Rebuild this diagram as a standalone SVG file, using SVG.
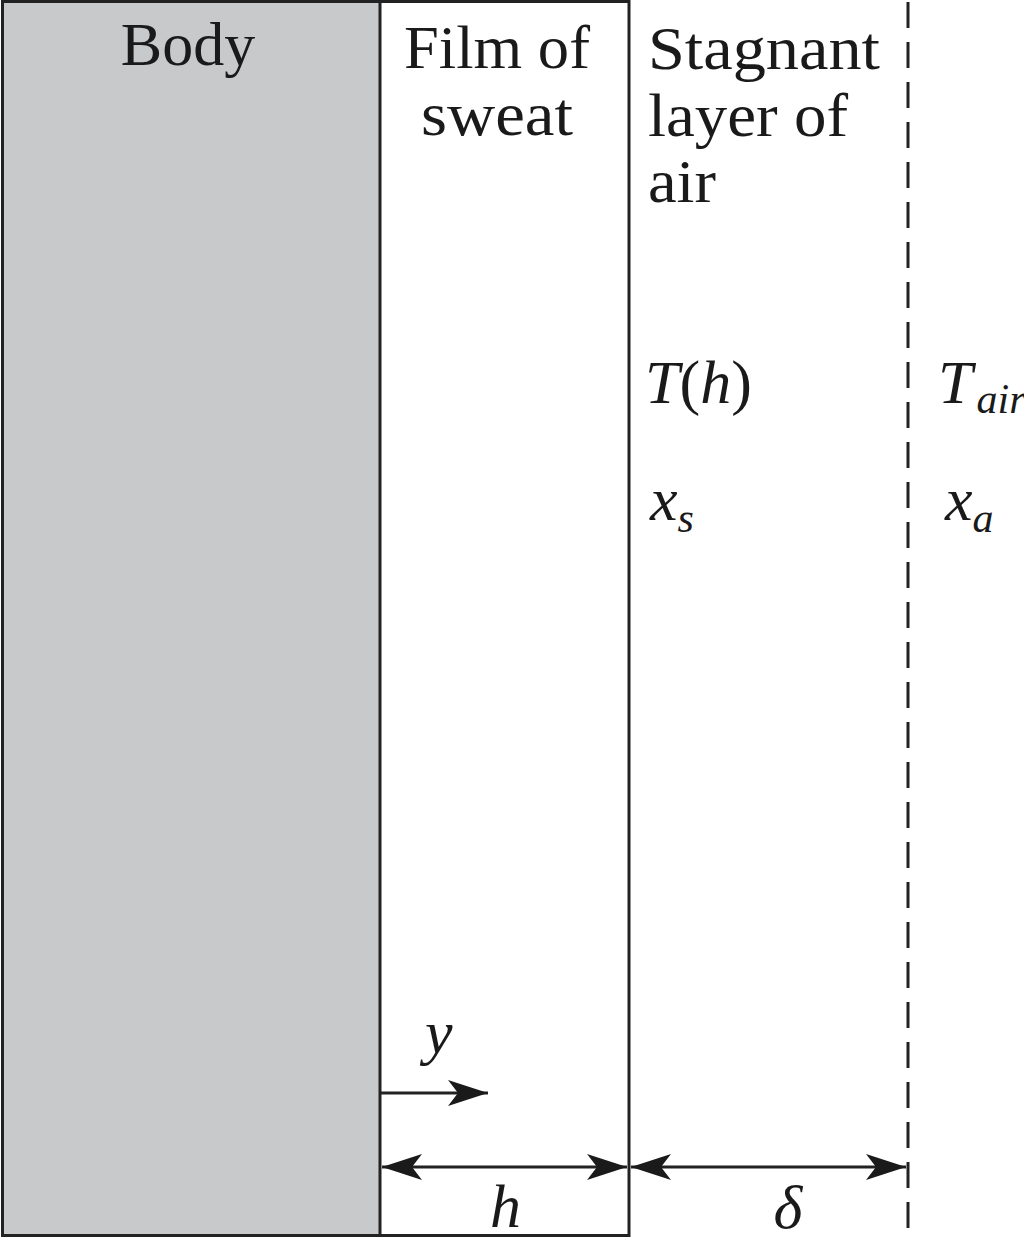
<svg xmlns="http://www.w3.org/2000/svg" width="1024" height="1246" viewBox="0 0 1024 1246">
<style>
.lbl{font-family:"Liberation Serif","Times New Roman",serif;font-size:62px;fill:#1a1a1a}
.it{font-style:italic}
.up{font-style:normal}
.sub{font-size:42px}
.box{stroke:#222;stroke-width:3}
.ln{stroke:#222;stroke-width:3;fill:none}
</style>
<defs>
<marker id="ah" viewBox="0 0 40 26" refX="40" refY="13" markerWidth="40" markerHeight="26" markerUnits="userSpaceOnUse" orient="auto-start-reverse">
<path d="M0,0 L40,13 L0,26 L10,13 Z" fill="#1a1a1a"/>
</marker>
</defs>
<rect width="1024" height="1246" fill="#fff"/>
<g id="body">
<rect class="box" x="2.5" y="1.5" width="378" height="1234" fill="#c8c9cb"/>
<text class="lbl" x="188" y="65" text-anchor="middle">Body</text>
</g>
<g id="film">
<rect class="box" x="380" y="1.5" width="249" height="1234" fill="#fff"/>
<text class="lbl" x="404" y="68" textLength="186" lengthAdjust="spacingAndGlyphs">Film of</text>
<text class="lbl" x="421" y="135" textLength="152" lengthAdjust="spacingAndGlyphs">sweat</text>
</g>
<g id="air">
<text class="lbl" x="648" y="69" textLength="232" lengthAdjust="spacingAndGlyphs">Stagnant</text>
<text class="lbl" x="648" y="136" textLength="200" lengthAdjust="spacingAndGlyphs">layer of</text>
<text class="lbl" x="648" y="202" textLength="68" lengthAdjust="spacingAndGlyphs">air</text>
<text class="lbl it" x="645" y="403">T<tspan class="up">(</tspan>h<tspan class="up">)</tspan></text>
<text class="lbl it" x="650" y="520">x<tspan class="sub" dy="12">s</tspan></text>
</g>
<g id="ambient">
<text class="lbl it" x="938" y="403">T<tspan class="sub" dy="10" dx="4">air</tspan></text>
<text class="lbl it" x="945" y="520">x<tspan class="sub" dy="12">a</tspan></text>
</g>
<g id="connectors">
<line class="ln" x1="908" y1="2" x2="908" y2="1230" stroke-dasharray="26 14"/>
<line class="ln" x1="381" y1="1093" x2="488" y2="1093" marker-end="url(#ah)"/>
<line class="ln" x1="382" y1="1167" x2="627" y2="1167" marker-start="url(#ah)" marker-end="url(#ah)"/>
<line class="ln" x1="631" y1="1167" x2="906" y2="1167" marker-start="url(#ah)" marker-end="url(#ah)"/>
<text class="lbl it" x="425" y="1053">y</text>
<text class="lbl it" x="490" y="1227">h</text>
<text class="lbl it" x="788" y="1228" text-anchor="middle">δ</text>
</g>
</svg>
